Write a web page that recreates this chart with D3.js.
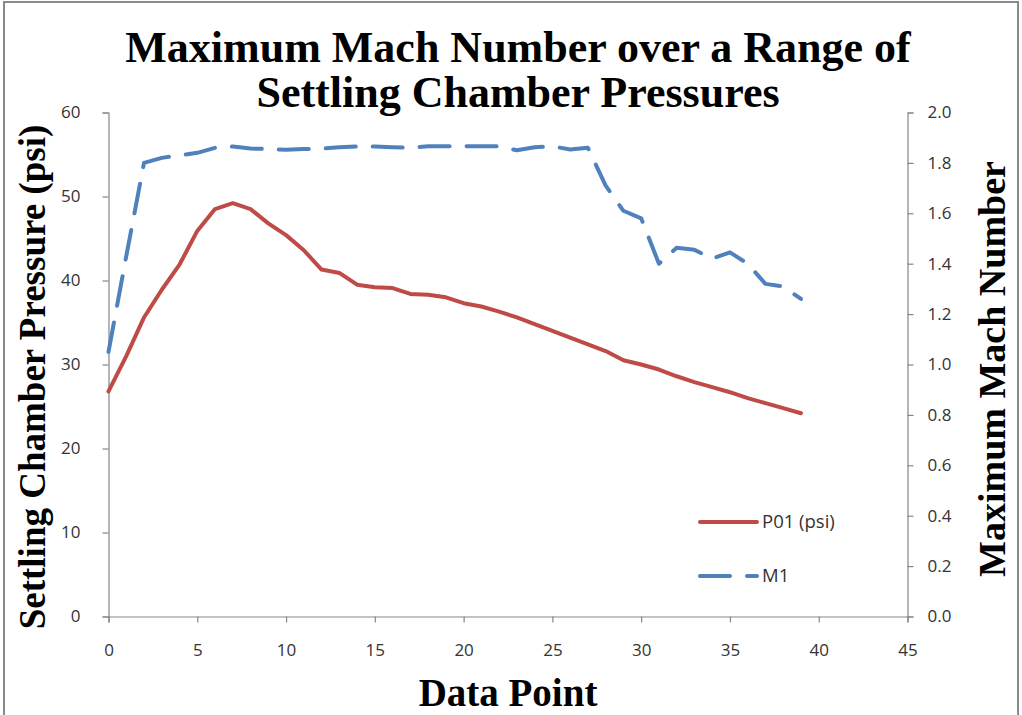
<!DOCTYPE html>
<html>
<head>
<meta charset="utf-8">
<script src="https://cdn.jsdelivr.net/npm/d3@7"></script>
<style>
  body { margin: 0; background: #fff; }
  svg { display: block; }
  .tick text { font-family: "Open Sans", sans-serif; font-size: 17px; fill: #333; }
  .axis path, .axis line { stroke: #878787; stroke-width: 1.2; }
  .ttl { font-family: "Liberation Serif", "Times New Roman", serif; font-weight: bold; fill: #000; }
</style>
</head>
<body>
<svg width="1022" height="715"></svg>
<script>
// data points
var points = d3.range(0, 40);
var p01 = [26.8, 31.0, 35.6, 38.9, 41.9, 45.9, 48.5, 49.2, 48.5, 46.8,
           45.4, 43.6, 41.3, 40.9, 39.5, 39.2, 39.1, 38.4, 38.3, 38.0,
           37.3, 36.9, 36.3, 35.6, 34.8, 34.0, 33.2, 32.4, 31.6, 30.5,
           30.0, 29.4, 28.6, 27.9, 27.3, 26.7, 26.0, 25.4, 24.8, 24.2];
var m1 = [1.05, 1.43, 1.80, 1.82, 1.83, 1.84, 1.86, 1.865, 1.857, 1.855,
          1.852, 1.855, 1.857, 1.862, 1.865, 1.865, 1.862, 1.86, 1.866, 1.866,
          1.866, 1.866, 1.866, 1.85, 1.862, 1.866, 1.853, 1.86, 1.71, 1.61,
          1.58, 1.40, 1.463, 1.455, 1.42, 1.445, 1.40, 1.32, 1.31, 1.26];
var xTicks = [0, 5, 10, 15, 20, 25, 30, 35, 40, 45];
var leftTicks = [0, 10, 20, 30, 40, 50, 60];
var rightTicks = [0, 0.2, 0.4, 0.6, 0.8, 1.0, 1.2, 1.4, 1.6, 1.8, 2.0];
var seriesNames = ["P01 (psi)", "M1"];
var titleLines = ["Maximum Mach Number over a Range of", "Settling Chamber Pressures"];

var red = "#BE4B48", blue = "#4F81BD";

var svg = d3.select("svg");

// outer chart border
svg.append("rect")
  .attr("x", 4).attr("y", 2).attr("width", 1014).attr("height", 730)
  .attr("fill", "none").attr("stroke", "#8a8a8a").attr("stroke-width", 2);

var x = d3.scaleLinear().domain([0, 45]).range([108.5, 907.5]);
var yL = d3.scaleLinear().domain([0, 60]).range([616.5, 112.5]);
var yR = d3.scaleLinear().domain([0, 2]).range([616.5, 112.5]);

svg.append("g").attr("class", "axis")
  .attr("transform", "translate(0,616.5)")
  .call(d3.axisBottom(x).tickValues(xTicks).tickSize(6).tickPadding(21));

svg.append("g").attr("class", "axis")
  .attr("transform", "translate(108.5,0)")
  .call(d3.axisLeft(yL).tickValues(leftTicks).tickSize(6).tickPadding(22));

svg.append("g").attr("class", "axis")
  .attr("transform", "translate(907.5,0)")
  .call(d3.axisRight(yR).tickValues(rightTicks).tickSize(6).tickPadding(14)
    .tickFormat(d3.format(".1f")));

// series
var lineP = d3.line().x(function(d, i) { return x(points[i]); }).y(function(d) { return yL(d); });
var lineM = d3.line().x(function(d, i) { return x(points[i]); }).y(function(d) { return yR(d); });

svg.append("path").datum(p01)
  .attr("d", lineP)
  .attr("fill", "none").attr("stroke", red).attr("stroke-width", 4)
  .attr("stroke-linejoin", "round").attr("stroke-linecap", "round");

svg.append("path").datum(m1)
  .attr("d", lineM)
  .attr("fill", "none").attr("stroke", blue).attr("stroke-width", 4)
  .attr("stroke-dasharray", "30,17")
  .attr("stroke-linejoin", "round").attr("stroke-linecap", "round");

// legend
var legend = svg.append("g").attr("transform", "translate(700,522)");
legend.append("line").attr("x1", 0).attr("x2", 57).attr("y1", 0).attr("y2", 0)
  .attr("stroke", red).attr("stroke-width", 4).attr("stroke-linecap", "round");
legend.append("line").attr("x1", 0).attr("x2", 57).attr("y1", 54).attr("y2", 54)
  .attr("stroke", blue).attr("stroke-width", 4).attr("stroke-linecap", "round")
  .attr("stroke-dasharray", "30,17");
legend.selectAll("text.lg").data(seriesNames).enter().append("text")
  .attr("class", "lg")
  .attr("x", 62).attr("y", function(d, i) { return i * 54; }).attr("dy", "0.35em")
  .style("font-family", "'Open Sans', sans-serif").style("font-size", "18.5px")
  .attr("fill", "#333")
  .text(function(d) { return d; });

// titles
svg.selectAll("text.main").data(titleLines).enter().append("text")
  .attr("class", "ttl main")
  .attr("x", 518).attr("y", function(d, i) { return 62 + i * 45; })
  .attr("text-anchor", "middle").style("font-size", "44px")
  .text(function(d) { return d; });

svg.append("text").attr("class", "ttl")
  .attr("transform", "translate(45,377) rotate(-90)")
  .attr("text-anchor", "middle").style("font-size", "37px")
  .text("Settling Chamber Pressure (psi)");

svg.append("text").attr("class", "ttl")
  .attr("transform", "translate(1005,369) rotate(-90)")
  .attr("text-anchor", "middle").style("font-size", "38px")
  .text("Maximum Mach Number");

svg.append("text").attr("class", "ttl")
  .attr("x", 508).attr("y", 706)
  .attr("text-anchor", "middle").style("font-size", "39px")
  .text("Data Point");
</script>
</body>
</html>
